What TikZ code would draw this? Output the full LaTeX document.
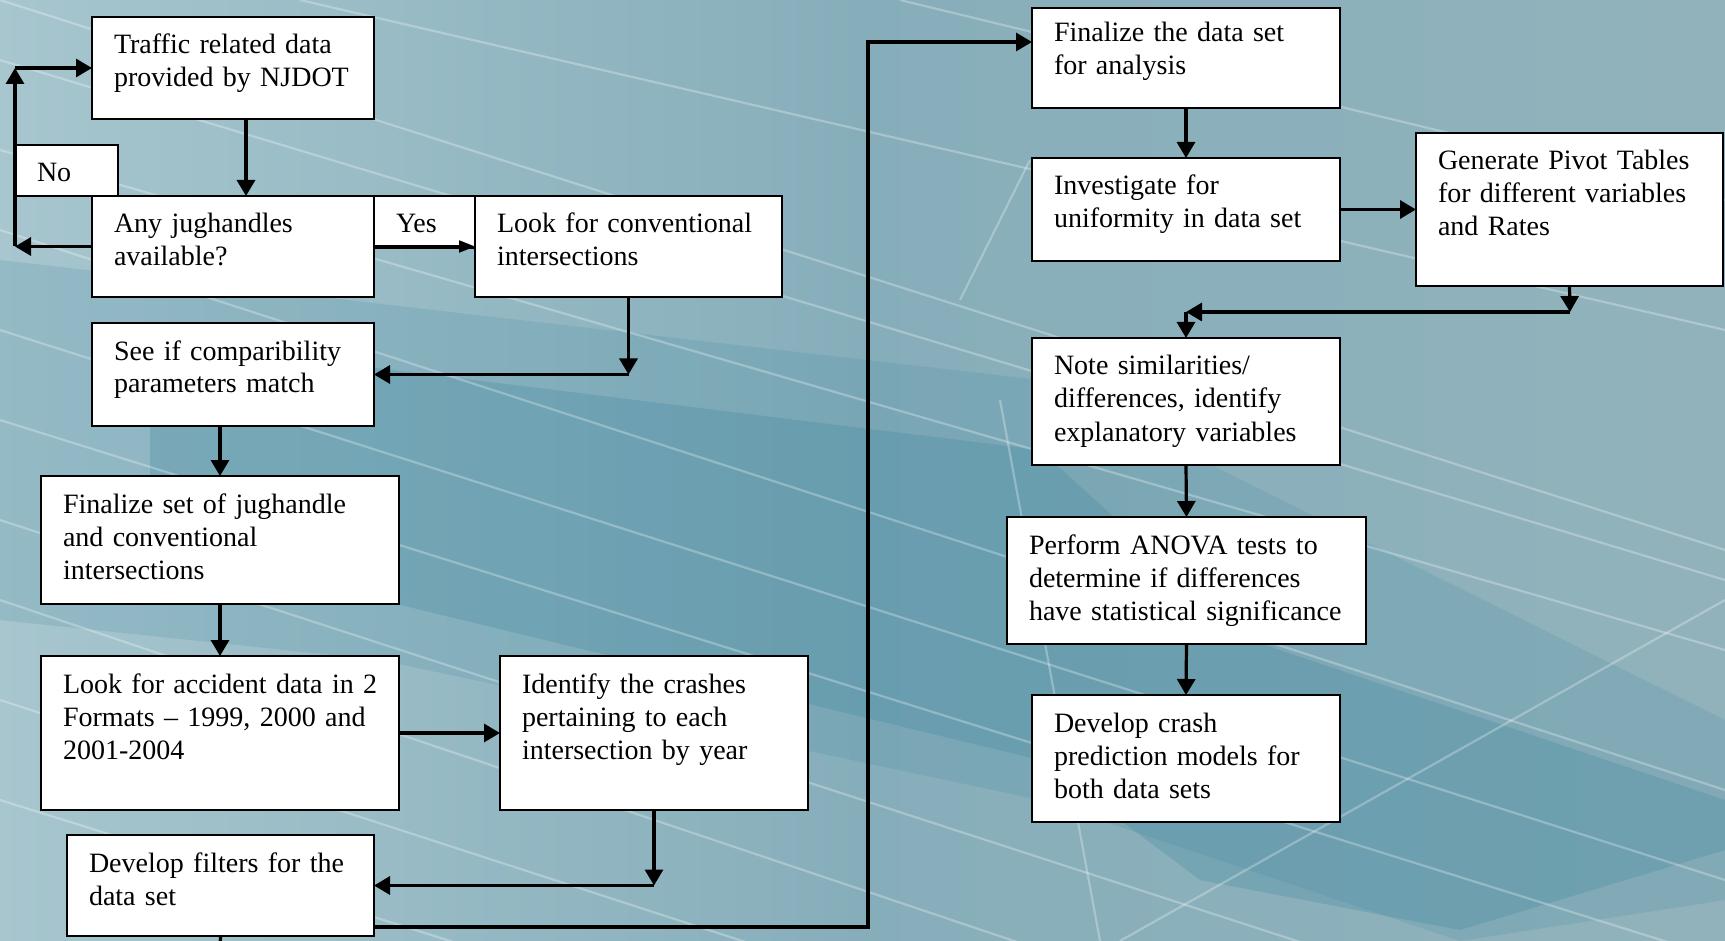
\documentclass[tikz,border=0pt]{standalone}
\usepackage{fontspec}
\setmainfont{Liberation Serif}
\usetikzlibrary{arrows.meta, positioning}

\definecolor{bgleft}{HTML}{B5D0D7}
\definecolor{bgmid}{HTML}{86AEBA}
\definecolor{bgright}{HTML}{9DB7BD}
\definecolor{bgband}{HTML}{3F87A0}

\pgfdeclarehorizontalshading{backdrop}{100bp}{color(0bp)=(bgleft); color(25bp)=(bgleft!70!bgmid); color(50bp)=(bgmid); color(75bp)=(bgmid!50!bgright); color(100bp)=(bgright)}

\begin{document}
\begin{tikzpicture}[x=0.5pt, y=-0.5pt,
        box/.style={rectangle, draw, line width=0.9pt, fill=white, anchor=north west, align=left, outer sep=0pt,
            inner xsep=11pt, inner ysep=0pt, text height=18.5pt, font=\fontsize{14}{16.5}\selectfont},
        arrow/.style={-{Triangle[length=8pt, width=9pt]}, line width=1.6pt},
        thinarrow/.style={-{Triangle[length=8pt, width=6pt]}, line width=1pt},
        link/.style={line width=1.6pt},
        streak/.style={white, opacity=0.28, line width=1.1pt}
    ]
    \useasboundingbox (0,0) rectangle (1725,941);

    % --- BACKGROUND ---
    \shade[shading=backdrop] (0,0) rectangle (1725,941);
    \fill[bgband, opacity=0.18] (0,260) -- (1040,380) -- (1725,720) -- (1725,900) -- (1460,941)
        -- (1040,800) -- (380,660) -- (0,620) -- cycle;
    \fill[bgband, opacity=0.28] (150,340) -- (1040,450) -- (1250,640) -- (1725,800) -- (1725,850) -- (1460,930)
        -- (1200,880) -- (1040,760) -- (380,600) -- (150,560) -- cycle;
    \foreach \ya/\yb in {0/230, 60/260, 150/330, 230/470, 330/560, 420/640, 520/760, 600/860, 700/940, 800/1020} {
        \draw[streak] (0,\ya) -- (1725,\yb+320);
    }
    \draw[streak] (300,0) -- (1725,330);
    \draw[streak] (900,0) -- (1725,200);
    \draw[streak] (1000,400) -- (1100,941);
    \draw[streak] (960,300) -- (1030,160);
    \draw[streak] (1120,941) -- (1725,600);

    % --- LEFT COLUMN ---
    \node[box, text width=119pt, text depth=32.5pt] (traffic) at (92,17) {Traffic related data\\provided by NJDOT};
    \node[box, text width=29.5pt, text depth=7pt] (nobox) at (15,145) {No};
    \node[box, text width=119pt, text depth=32pt, below=38.5pt of traffic.south west, anchor=north west] (jug) {Any jughandles\\available?};
    \node[box, text width=28.5pt, text depth=7.5pt, right=0pt of jug.north east, anchor=north west] (yes) {Yes};
    \node[box, text width=131.5pt, text depth=32pt, right=0pt of yes.north east, anchor=north west] (conv) {Look for conventional\\intersections};
    \node[box, text width=119pt, text depth=33pt] (compat) at (92,323) {See if comparibility\\parameters match};
    \node[box, text width=157pt, text depth=45.5pt] (finset) at (41,476) {Finalize set of jughandle\\and conventional\\intersections};
    \node[box, text width=157pt, text depth=58.5pt] (accident) at (41,656) {\mbox{Look for accident data in 2}\\Formats -- 1999, 2000 and\\2001-2004};
    \node[box, text width=132pt, text depth=58.5pt] (crashes) at (500,656) {Identify the crashes\\pertaining to each\\intersection by year};
    \node[box, text width=131.5pt, text depth=32pt] (filters) at (67,835) {Develop filters for the\\data set};

    % --- RIGHT COLUMN ---
    \node[box, text width=132pt, text height=17pt, text depth=33pt] (finalize) at (1032,8) {Finalize the data set\\for analysis};
    \node[box, text width=132pt, text depth=33pt] (uniform) at (1032,158) {Investigate for\\uniformity in data set};
    \node[box, text width=131.5pt, text depth=58pt] (pivot) at (1416,133) {Generate Pivot Tables\\for different variables\\and Rates};
    \node[box, text width=132pt, text depth=45pt] (similar) at (1032,338) {Note similarities/\\differences, identify\\explanatory variables};
    \node[box, text width=157.5pt, text depth=45pt] (anova) at (1007,517) {Perform ANOVA tests to\\determine if differences\\have statistical significance};
    \node[box, text width=132pt, text depth=45pt] (model) at (1032,695) {Develop crash\\prediction models for\\both data sets};

    % --- CONNECTORS ---
    \draw[arrow] ([xshift=6.5pt]traffic.south) -- ([xshift=6.5pt]jug.north);
    \draw[arrow] (jug.west) -- (jug.west -| nobox.west);
    \draw[arrow] (jug.west -| nobox.west) -- (traffic.west -| nobox.west);
    \draw[arrow] (traffic.west -| nobox.west) -- (traffic.west);
    \draw[thinarrow] (jug.east) -- (conv.west);
    \draw[arrow] (conv.south) -- (conv.south |- compat.east);
    \draw[arrow] (conv.south |- compat.east) -- (compat.east);
    \draw[arrow] (compat.south -| finset.north) -- (finset.north);
    \draw[arrow] (finset.south) -- (accident.north);
    \draw[arrow] (accident.east) -- (crashes.west);
    \draw[arrow] (crashes.south) -- (crashes.south |- filters.east);
    \draw[arrow] (crashes.south |- filters.east) -- (filters.east);

    \coordinate (tail) at (220,950);
    \draw[link] (filters.south) -- (tail);
    \coordinate (jumpbot) at (868,927);
    \coordinate (jumptop) at (868,42);
    \draw[arrow] (filters.east |- jumpbot) -- (jumpbot) -- (jumptop) -- (jumptop -| finalize.west);

    \draw[arrow] (finalize.south) -- (uniform.north);
    \draw[arrow] (uniform.east) -- (pivot.west);
    \coordinate (pivotdrop) at (1570,312);
    \draw[arrow] (pivot.south) -- (pivotdrop);
    \draw[arrow] (pivotdrop) -- (pivotdrop -| similar.north);
    \draw[arrow] (pivotdrop -| similar.north) -- (similar.north);
    \draw[arrow] (similar.south) -- (anova.north);
    \draw[arrow] (anova.south) -- (model.north);

\end{tikzpicture}
\end{document}
